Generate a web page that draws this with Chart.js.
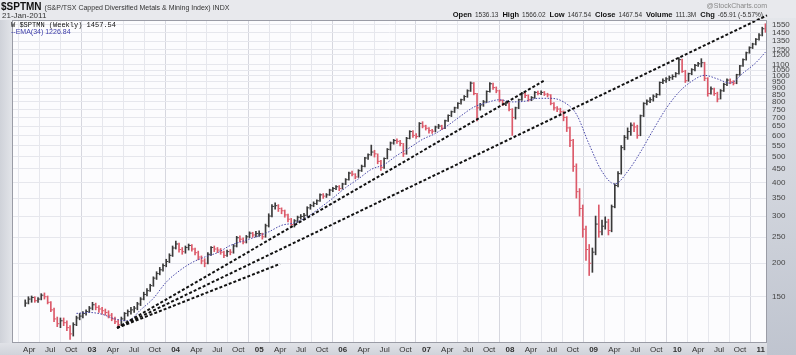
<!DOCTYPE html>
<html>
<head>
<meta charset="utf-8">
<style>
  html, body { margin: 0; padding: 0; background: #e8e9ed; }
  #wrap { width: 796px; height: 355px; }
</style>
</head>
<body>
<div id="wrap"><canvas id="c" width="796" height="355"></canvas></div>
<script src="https://cdn.jsdelivr.net/npm/chart.js@4.4.0/dist/chart.umd.min.js"></script>
<script>
// bi-weekly bars, first one mid March 2002, last one 21-Jan-2011
const firstBar = 2002.201;
const barStep = 14 / 365.25;

const closes = [
  142,147,149,145,147,152,150,143,134,124,
  119,122,120,115,109,118,125,127,130,132,
  136,140,137,135,133,131,128,124,121,118,
  124,130,132,134,136,141,147,153,158,165,
  176,183,189,196,203,214,228,236,225,221,
  229,233,226,219,211,204,200,216,229,226,
  224,220,214,221,220,232,249,246,240,251,
  259,255,258,258,251,276,300,326,328,320,
  314,303,292,279,288,297,299,302,322,328,
  334,342,360,356,360,375,380,386,380,395,
  410,434,430,420,443,460,494,508,520,512,
  480,456,492,532,562,574,570,560,512,585,
  620,600,594,665,650,638,625,622,645,650,
  638,680,712,735,760,790,815,838,880,940,
  860,760,780,800,875,935,905,880,810,785,
  792,750,700,760,815,862,845,815,830,868,
  860,868,855,850,790,760,752,735,700,640,
  575,460,370,320,268,225,200,220,280,262,
  275,285,265,325,390,432,540,590,620,655,
  645,600,710,790,805,815,840,852,945,960,
  975,985,995,1020,1150,1040,960,1020,1055,1095,
  1110,1120,980,860,895,860,820,880,930,965,
  950,940,1010,1090,1150,1220,1275,1315,1370,1420,
  1500,1458
];
const highs = [
  146,150,151,150,149,154,155,151,144,136,
  126,125,125,122,117,120,127,130,132,134,
  138,143,142,139,137,135,133,130,126,123,
  126,131,134,137,138,143,149,156,161,167,
  178,186,193,199,207,217,232,242,238,229,
  232,236,235,228,222,213,208,219,231,232,
  229,227,222,224,225,235,252,253,249,254,
  262,261,263,264,259,280,306,331,336,331,
  322,316,305,294,291,300,304,307,325,332,
  339,345,363,364,364,378,384,390,390,398,
  414,438,442,432,447,465,497,512,552,528,
  512,484,495,536,567,580,582,575,560,590,
  625,625,610,670,675,655,642,632,650,660,
  655,684,716,740,765,795,820,845,888,950,
  945,862,790,810,880,945,940,910,885,815,
  800,795,755,765,820,868,870,850,838,875,
  878,880,875,862,852,795,768,758,740,705,
  645,580,470,380,330,275,235,228,300,330,
  290,298,292,330,396,440,550,600,640,668,
  668,655,715,795,815,830,850,860,950,975,
  985,1000,1010,1030,1170,1155,1050,1025,1065,1105,
  1125,1160,1125,985,910,900,870,890,940,975,
  975,960,1015,1095,1158,1228,1285,1325,1380,1440,
  1520,1566
];
const lows = [
  138,141,143,143,143,146,147,141,132,121,
  116,115,117,112,104,107,117,123,125,128,
  131,134,134,131,129,128,125,122,119,115,
  117,122,127,129,131,134,139,146,151,157,
  164,174,181,187,194,201,212,226,220,216,
  218,224,222,215,206,199,194,199,214,221,
  219,216,210,212,215,218,230,240,236,238,
  249,250,251,252,246,250,273,298,318,312,
  306,297,285,272,273,284,292,294,300,318,
  325,331,340,349,352,358,370,376,373,378,
  393,408,424,413,418,440,458,488,505,498,
  470,444,452,490,528,556,560,548,500,510,
  582,590,585,592,640,628,612,610,618,636,
  630,635,676,705,730,756,785,810,832,875,
  850,680,745,770,795,870,890,865,800,775,
  775,740,600,690,755,810,830,805,808,825,
  850,852,845,835,780,745,735,720,680,620,
  545,440,350,300,250,205,180,185,215,250,
  255,268,255,262,322,385,430,530,580,600,
  620,585,598,705,780,795,805,830,848,935,
  945,960,970,990,1015,1030,945,955,1010,1045,
  1085,1080,960,840,855,845,800,820,875,920,
  935,925,935,1005,1085,1145,1215,1265,1305,1360,
  1410,1457
];

// EMA(34) read at these bar numbers
const emaBars = [16,20,24,28,32,36,40,44,48,52,56,60,64,68,72,76,80,84,88,92,
  96,100,104,108,112,116,120,124,128,132,136,140,144,148,152,156,160,164,168,172,
  176,180,184,188,192,196,200,204,208,212,216,220,224,228,231];
const ema34 = [130,131,129,124,122,134,148,170,187,201,211,219,233,242,251,262,277,283,298,322,
  350,383,413,448,467,505,540,580,610,655,710,765,795,815,800,805,825,825,800,720,
  555,440,395,440,520,630,755,870,955,1005,975,940,1025,1120,1227];

// hand drawn trend lines: [start date, value], [end date, value]
const trendLines = [
  [[2003.30, 114.7], [2008.42, 966]],
  [[2003.30, 114.7], [2011.074, 1683]],
  [[2003.30, 114.7], [2005.25, 199]]
];

const yTicks = [150,200,250,300,350,400,450,500,550,600,650,700,750,800,850,900,950,1000,1050,1100,1200,1250,1350,1450,1550];
const tickYears = [2002,2003,2004,2005,2006,2007,2008,2009,2010,2011];
const tickMonths = ['', 'Apr', 'Jul', 'Oct'];

const xMin = 2002.043, xMax = 2011.074;
const pxYear = 1 / 83.6; // one pixel, in years
const xTicks = [];
tickYears.forEach(y => tickMonths.forEach((m, q) => {
  const v = y + q / 4;
  if (v >= xMin && v <= xMax) xTicks.push({ value: v, label: m || String(y).slice(2), year: !m });
}));
const isYearTick = v => xTicks.some(t => t.year && Math.abs(t.value - v) < 1e-6);
const labelFor = v => { const t = xTicks.find(t => Math.abs(t.value - v) < 1e-6); return t ? t.label : ''; };

const barData = closes.map((c, i) => ({ x: firstBar + i * barStep, y: [lows[i], highs[i]] }));
const closeData = closes.map((c, i) => ({ x: firstBar + i * barStep + pxYear, y: c }));
const barColors = closes.map((c, i) => (i > 0 && c < closes[i - 1]) ? '#dc5a6a' : '#3a3a3a');
const emaData = emaBars.map((b, k) => ({ x: firstBar + b * barStep, y: ema34[k] }));

const FONT = '"Liberation Sans", Arial, sans-serif';

const frame = {
  id: 'frame',
  beforeDraw(chart) {
    const { ctx, chartArea: a, width, height } = chart;
    ctx.save();
    ctx.fillStyle = '#e8e9ed';
    ctx.fillRect(0, 0, width, height);
    let g = ctx.createLinearGradient(0, 0, a.left, 0);
    g.addColorStop(0, '#cfd2d9');
    g.addColorStop(1, '#e2e4e9');
    ctx.fillStyle = g;
    ctx.fillRect(0, a.top, a.left, height - a.top);
    g = ctx.createLinearGradient(0, a.bottom, 0, height);
    g.addColorStop(0, '#e0e2e7');
    g.addColorStop(1, '#d0d3da');
    ctx.fillStyle = g;
    ctx.fillRect(0, a.bottom, a.right, height - a.bottom);
    g = ctx.createLinearGradient(a.right, 0, width, height);
    g.addColorStop(0, '#e6e8ec');
    g.addColorStop(1, '#bfc4cf');
    ctx.fillStyle = g;
    ctx.fillRect(a.right, a.top - 2, width - a.right, height - a.top + 2);
    ctx.fillStyle = '#fcfcfe';
    ctx.fillRect(a.left, a.top, a.right - a.left, a.bottom - a.top);
    ctx.restore();
  },
  afterDraw(chart) {
    const { ctx, chartArea: a } = chart;
    ctx.save();
    ctx.strokeStyle = '#9a9ca6';
    ctx.lineWidth = 1;
    ctx.strokeRect(a.left + 0.5, a.top + 0.5, a.right - a.left - 1, a.bottom - a.top - 1);

    ctx.textBaseline = 'alphabetic';
    ctx.fillStyle = '#111';
    ctx.font = 'bold 10px ' + FONT;
    ctx.fillText('$SPTMN', 1, 10);
    let x = 1 + ctx.measureText('$SPTMN').width + 3;
    ctx.font = '7px ' + FONT;
    ctx.fillStyle = '#333';
    ctx.fillText('(S&P/TSX Capped Diversified Metals & Mining Index) INDX', x, 10);
    ctx.font = '8px ' + FONT;
    ctx.fillText('21-Jan-2011', 2, 18);

    ctx.font = '7px "Liberation Mono", monospace';
    ctx.fillStyle = '#111';
    ctx.fillText('W $SPTMN (Weekly) 1457.54', 11, 27);
    ctx.font = '7px ' + FONT;
    ctx.fillStyle = '#3a3aa8';
    ctx.fillText('--EMA(34) 1226.84', 11, 34);

    ctx.fillStyle = '#888';
    ctx.font = '7px ' + FONT;
    ctx.textAlign = 'right';
    ctx.fillText('@StockCharts.com', 767, 8);

    const parts = [['Open', '1536.13'], ['High', '1566.02'], ['Low', '1467.54'], ['Close', '1467.54'], ['Volume', '111.3M'], ['Chg', '-65.91 (-5.57%)']];
    const bold = 'bold 7.5px ' + FONT, reg = '6.5px ' + FONT;
    let total = 0;
    parts.forEach(([k, v]) => {
      ctx.font = bold; total += ctx.measureText(k).width + 3;
      ctx.font = reg; total += ctx.measureText(v).width + 4;
    });
    ctx.textAlign = 'left';
    x = 763 - total + 4;
    parts.forEach(([k, v]) => {
      ctx.font = bold; ctx.fillStyle = '#111'; ctx.fillText(k, x, 17); x += ctx.measureText(k).width + 3;
      ctx.font = reg; ctx.fillStyle = '#333'; ctx.fillText(v, x, 17); x += ctx.measureText(v).width + 4;
    });
    ctx.restore();
  }
};

new Chart(document.getElementById('c'), {
  type: 'bar',
  data: {
    datasets: [
      ...trendLines.map(l => ({
        type: 'line',
        data: l.map(p => ({ x: p[0], y: p[1] })),
        borderColor: '#111',
        borderWidth: 2,
        borderDash: [3, 2],
        pointRadius: 0,
        clip: 8,
        order: 1
      })),
      {
        type: 'line',
        data: emaData,
        borderColor: '#4646a8',
        borderWidth: 1,
        borderDash: [1.5, 1.5],
        pointRadius: 0,
        cubicInterpolationMode: 'monotone',
        order: 2
      },
      {
        type: 'scatter',
        data: closeData,
        pointStyle: 'line',
        pointRadius: 1.2,
        pointBorderWidth: 1,
        pointBorderColor: barColors,
        pointBackgroundColor: barColors,
        order: 3
      },
      {
        type: 'bar',
        data: barData,
        backgroundColor: barColors,
        barThickness: 1,
        order: 4
      }
    ]
  },
  options: {
    responsive: false,
    animation: false,
    devicePixelRatio: 1,
    layout: { padding: { left: 12, top: 20, right: 0, bottom: 0 } },
    plugins: { legend: { display: false }, tooltip: { enabled: false } },
    scales: {
      x: {
        type: 'linear',
        min: xMin,
        max: xMax,
        offset: false,
        afterBuildTicks: s => { s.ticks = xTicks.map(t => ({ value: t.value })); },
        afterFit: s => { s.height = 12; },
        grid: {
          drawTicks: false,
          color: c => (c.tick && isYearTick(c.tick.value)) ? '#d6d7df' : '#e6e7ed',
          lineWidth: 1
        },
        border: { display: false },
        ticks: {
          autoSkip: false,
          maxRotation: 0,
          padding: 2,
          color: '#333',
          font: c => ({ family: FONT, size: 8, weight: (c.tick && isYearTick(c.tick.value)) ? 'bold' : 'normal' }),
          callback: v => labelFor(v)
        }
      },
      y: {
        type: 'logarithmic',
        position: 'right',
        min: 100.8,
        max: 1617,
        afterBuildTicks: s => { s.ticks = yTicks.map(v => ({ value: v })); },
        afterFit: s => { s.width = 29; },
        grid: { drawTicks: false, color: '#e6e7ed', lineWidth: 1 },
        border: { display: false },
        ticks: {
          autoSkip: false,
          padding: 5,
          color: '#444',
          font: { family: FONT, size: 8 },
          callback: v => String(v)
        }
      }
    }
  },
  plugins: [frame]
});
</script>
</body>
</html>
